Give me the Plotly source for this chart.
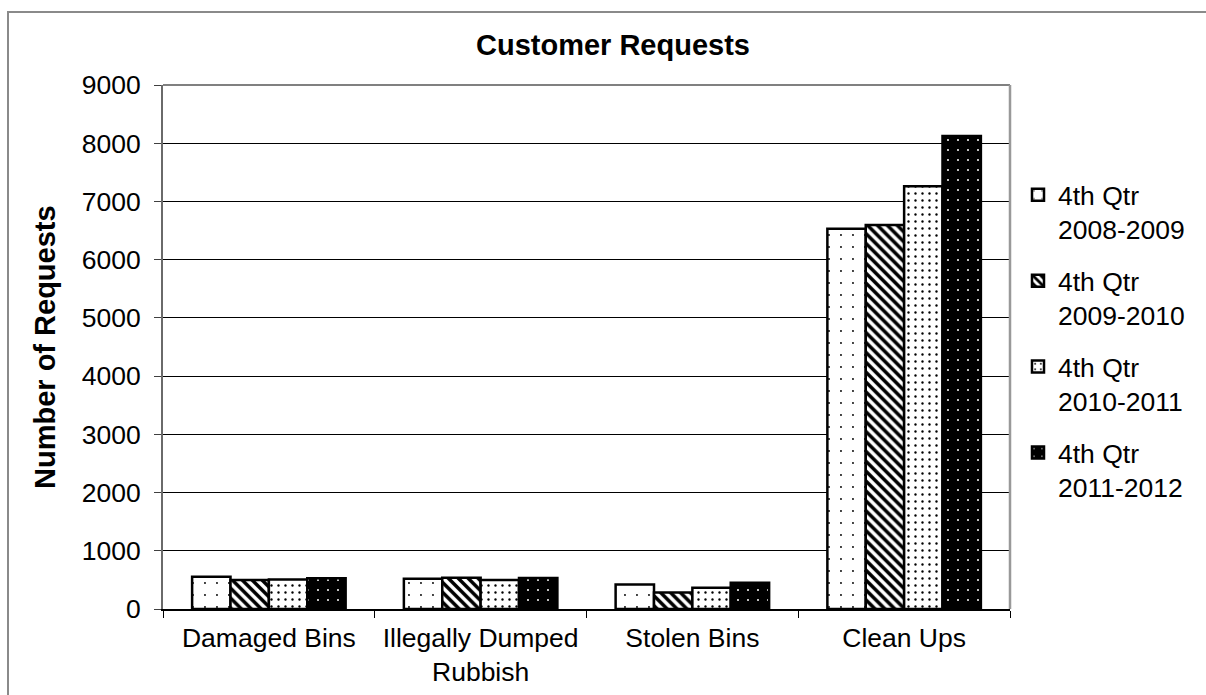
import plotly.graph_objects as go

# Request categories (x axis) and quarterly series
categories = ["Damaged Bins", "Illegally Dumped<br>Rubbish", "Stolen Bins", "Clean Ups"]
series_names = ["4th Qtr<br>2008-2009", "4th Qtr<br>2009-2010",
                "4th Qtr<br>2010-2011", "4th Qtr<br>2011-2012"]
q4_2008_09 = [555, 520, 420, 6530]
q4_2009_10 = [500, 537, 285, 6595]
q4_2010_11 = [505, 500, 365, 7260]
q4_2011_12 = [530, 533, 450, 8125]
y_ticks = [0, 1000, 2000, 3000, 4000, 5000, 6000, 7000, 8000, 9000]

FONT = "Liberation Sans, Arial, sans-serif"
FS = 26.5
FS_BOLD = 29

# Monochrome fill patterns, one per series
patterns = [
    dict(shape=".", bgcolor="white", fgcolor="black", size=12, solidity=0.02, fillmode="replace"),
    dict(shape="\\", bgcolor="white", fgcolor="black", size=7, solidity=0.5, fillmode="replace"),
    dict(shape=".", bgcolor="white", fgcolor="black", size=7, solidity=0.09, fillmode="replace"),
    dict(shape=".", bgcolor="black", fgcolor="white", size=10, solidity=0.03, fillmode="replace"),
]
series_values = [q4_2008_09, q4_2009_10, q4_2010_11, q4_2011_12]

fig = go.Figure()
for i, (name, vals, pat) in enumerate(zip(series_names, series_values, patterns)):
    fig.add_trace(go.Bar(
        x=categories, y=vals, name=name, legendgroup=f"g{i}",
        marker=dict(color=pat["bgcolor"], pattern=pat,
                    line=dict(color="black", width=2.5)),
        hoverinfo="skip",
    ))

W, H = 1206, 695
L, R, T, B = 163, 196, 85, 86
pw, ph = W - L - R, H - T - B

def px_x(p):
    return (p - L) / pw

def px_y(p):
    return (H - B - p) / ph

fig.update_layout(
    width=W, height=H,
    margin=dict(l=L, r=R, t=T, b=B, autoexpand=False),
    paper_bgcolor="white", plot_bgcolor="white",
    font=dict(family=FONT, size=FS, color="black"),
    barmode="group", bargap=0.275, bargroupgap=0,
    title=dict(text="<b>Customer Requests</b>", x=613 / W, xref="container",
               y=1 - 45 / H, yref="container", xanchor="center", yanchor="middle",
               font=dict(family=FONT, size=FS_BOLD, color="black")),
    legend=dict(x=px_x(1018), y=px_y(171), xanchor="left", yanchor="top",
                font=dict(family=FONT, size=FS, color="black"),
                tracegroupgap=14, valign="top", bgcolor="rgba(0,0,0,0)",
                itemclick=False, itemdoubleclick=False),
    showlegend=True,
    xaxis=dict(
        type="category", showline=True, linecolor="black", linewidth=1.5,
        ticks="outside", tickson="boundaries", ticklen=7, tickcolor="black", tickwidth=1,
        showgrid=False, tickfont=dict(family=FONT, size=FS, color="black"),
        ticklabelstandoff=4, automargin=False,
    ),
    yaxis=dict(
        range=[0, 9000], tickvals=y_ticks, ticktext=[str(v) for v in y_ticks],
        showline=True, linecolor="#6a6a6a", linewidth=2,
        ticks="outside", ticklen=7, tickcolor="#404040", tickwidth=1,
        showgrid=True, gridcolor="black", gridwidth=1, zeroline=False,
        tickfont=dict(family=FONT, size=FS, color="black"),
        ticklabelstandoff=8, automargin=False,
    ),
    annotations=[dict(
        text="<b>Number of Requests</b>", textangle=-90,
        xref="paper", yref="paper", x=px_x(45), y=0.5,
        xanchor="center", yanchor="middle", showarrow=False,
        font=dict(family=FONT, size=FS_BOLD, color="black"),
    )],
    shapes=[
        # chart area frame
        dict(type="rect", xref="paper", yref="paper",
             x0=px_x(8), y0=px_y(H + 20), x1=px_x(W + 20), y1=px_y(12),
             line=dict(color="#8a8a8a", width=2), fillcolor="rgba(0,0,0,0)", layer="below"),
        # plot area frame: top and right edges
        dict(type="line", xref="paper", yref="paper", x0=0, y0=1, x1=1, y1=1,
             line=dict(color="#808080", width=2), layer="above"),
        dict(type="line", xref="paper", yref="paper", x0=1, y0=0, x1=1, y1=1,
             line=dict(color="#999999", width=2.5), layer="above"),
    ],
)

fig.write_html("out.html")
